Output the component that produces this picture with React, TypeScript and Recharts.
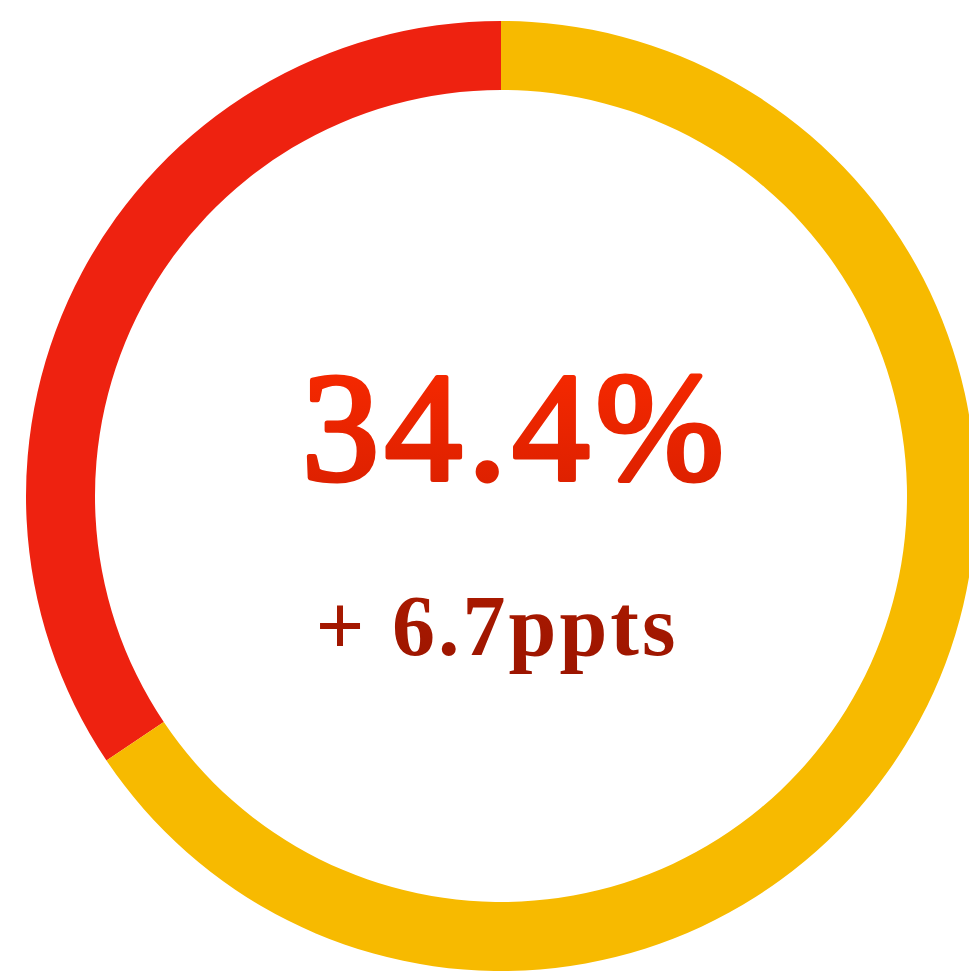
import { PieChart, Pie, Cell, Customized } from "recharts";

const segments = ["share", "rest"];
const values = [34.4, 65.6];
const colors = ["#ee2210", "#f7ba00"];
const headline = "34.4%";
const change = "+ 6.7ppts";

const data = segments.map((name, i) => ({ name, value: values[i] }));

const CX = 501;
const CY = 496;

function CenterText() {
  return (
    <g>
      <defs>
        <linearGradient id="bigGrad" x1="0" y1="0" x2="0" y2="1">
          <stop offset="0%" stopColor="#fb2a00" />
          <stop offset="100%" stopColor="#d81f00" />
        </linearGradient>
        <linearGradient id="smallGrad" x1="0" y1="0" x2="0" y2="1">
          <stop offset="0%" stopColor="#ab1a00" />
          <stop offset="100%" stopColor="#9c1500" />
        </linearGradient>
      </defs>
      <text
        x={CX + 15}
        y={CY - 17}
        textAnchor="middle"
        fontFamily="'Liberation Serif', serif"
        fontSize={154}
        letterSpacing={6}
        fill="url(#bigGrad)"
        stroke="url(#bigGrad)"
        strokeWidth={5}
        strokeLinejoin="round"
      >
        {headline}
      </text>
      <text
        x={CX - 4}
        y={CY + 159}
        textAnchor="middle"
        fontFamily="'Liberation Serif', serif"
        fontWeight="bold"
        fontSize={86}
        letterSpacing={3}
        fill="url(#smallGrad)"
      >
        {change}
      </text>
    </g>
  );
}

export default function App() {
  return (
    <div style={{ position: "fixed", left: 0, top: 0, width: 969, height: 971, overflow: "hidden", background: "#fff" }}>
      <PieChart width={1000} height={1000} margin={{ top: 0, right: 0, bottom: 0, left: 0 }}>
        <Pie
          data={data}
          dataKey="value"
          cx={CX}
          cy={CY}
          innerRadius={406}
          outerRadius={475}
          startAngle={90}
          endAngle={450}
          stroke="none"
          isAnimationActive={false}
        >
          {data.map((d, i) => (
            <Cell key={d.name} fill={colors[i]} />
          ))}
        </Pie>
        <Customized component={CenterText} />
      </PieChart>
    </div>
  );
}
